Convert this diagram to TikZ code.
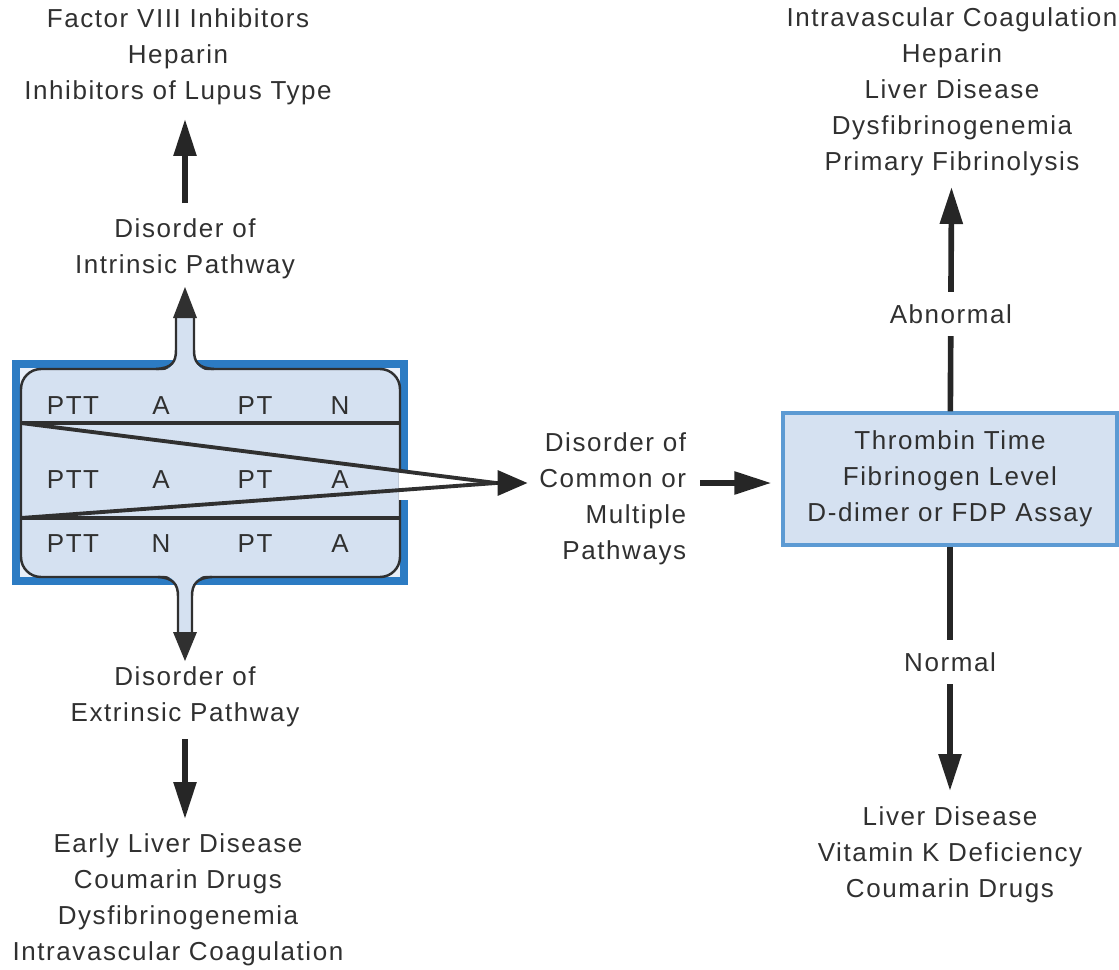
\documentclass[tikz,border=0pt]{standalone}
\usepackage{fontspec}
\setmainfont{Liberation Sans}[LetterSpace=6]
\usetikzlibrary{arrows.meta, positioning, calc}
\definecolor{ink}{HTML}{303030}
\definecolor{frameblue}{HTML}{2C7BC3}
\definecolor{panelfill}{HTML}{D5E1F1}
\definecolor{cornerfill}{HTML}{E9EFF8}
\definecolor{boxline}{HTML}{5C9AD3}
\tikzstyle{txt} = [align=center, text=ink, inner sep=2pt]
\tikzstyle{testbox} = [rectangle, minimum width=6.68cm, minimum height=2.64cm, fill=panelfill, draw=boxline, line width=1.9pt, align=center, text=ink]
\tikzstyle{cell} = [anchor=base, text=ink, inner sep=0pt]
\tikzstyle{arrow} = [line width=3.2pt, draw=black!85, -{Triangle[length=0.74cm, width=0.44cm]}]

\begin{document}
\begin{tikzpicture}[x=0.02cm, y=-0.02cm, every node/.style={font=\fontsize{14.8pt}{20.5pt}\selectfont}]
  \useasboundingbox (0,0) rectangle (1119,970);

  % Left panel: frame, table and pipes
  \fill[frameblue] (12,360) rectangle (408,585);
  \fill[cornerfill] (20,368) rectangle (400,577);
  \draw[ink, line width=1.4pt, fill=panelfill, rounded corners=0.4cm] (21,369) rectangle (400,577);
  \draw[ink, line width=2.2pt] (21,423) -- (400,423);
  \draw[ink, line width=2.2pt] (21,518) -- (400,518);

  % upward pipe
  \fill[panelfill] (156,372) .. controls (172,370) and (176,364) .. (176,350) -- (176,316) -- (194,316) -- (194,350) .. controls (194,364) and (198,370) .. (214,372) -- cycle;
  \draw[ink, line width=1.4pt] (156,369) .. controls (172,368) and (176,362) .. (176,350) -- (176,317);
  \draw[ink, line width=1.4pt] (194,317) -- (194,350) .. controls (194,362) and (198,368) .. (214,369);
  \fill[ink] (173,318) -- (197,318) -- (185,287) -- cycle;

  % downward pipe
  \fill[panelfill] (158,574) .. controls (173,576) and (178,582) .. (178,596) -- (178,633) -- (192,633) -- (192,596) .. controls (192,582) and (197,576) .. (212,574) -- cycle;
  \draw[ink, line width=1.4pt] (158,577) .. controls (173,578) and (178,584) .. (178,596) -- (178,632);
  \draw[ink, line width=1.4pt] (192,632) -- (192,596) .. controls (192,584) and (197,578) .. (212,577);
  \fill[ink] (173,632) -- (197,632) -- (185,661) -- cycle;

  % table cells
  \node[cell] (ptt1) at (73,414) {PTT};
  \node[cell] (res1) at (161,414) {A};
  \node[cell] (pt1) at (255,414) {PT};
  \node[cell] (rpt1) at (340,414) {N};
  \node[cell] (ptt2) at (73,488) {PTT};
  \node[cell] (res2) at (161,488) {A};
  \node[cell] (pt2) at (255,488) {PT};
  \node[cell] (rpt2) at (340,488) {A};
  \node[cell] (ptt3) at (73,552) {PTT};
  \node[cell] (res3) at (161,552) {N};
  \node[cell] (pt3) at (255,552) {PT};
  \node[cell] (rpt3) at (340,552) {A};

  % Texts
  \node[txt] (lupus) at (178,57) {Factor VIII Inhibitors\\Heparin\\Inhibitors of Lupus Type};
  \node[txt] (intr) at (185,249) {Disorder of\\Intrinsic Pathway};
  \node[txt] (extr) at (185,697) {Disorder of\\Extrinsic Pathway};
  \node[txt] (early) at (178,900) {Early Liver Disease\\Coumarin Drugs\\Dysfibrinogenemia\\Intravascular Coagulation};
  \node[txt, align=right, anchor=east] (common) at (690,499) {Disorder of\\Common or\\Multiple\\Pathways};
  \node[testbox] (tests) at (950,479) {Thrombin Time\\Fibrinogen Level\\D-dimer or FDP Assay};
  \node[txt] (abn) at (952,92) {Intravascular Coagulation\\Heparin\\Liver Disease\\Dysfibrinogenemia\\Primary Fibrinolysis};
  \node[txt] (nrm) at (950,855) {Liver Disease\\Vitamin K Deficiency\\Coumarin Drugs};

  % converging lines out of the panel
  \coordinate (join) at (496,483);
  \fill[white] (399,472) rectangle (410,500);
  \draw[ink, line width=2.2pt] (21,423) -- (join);
  \draw[ink, line width=2.2pt] (21,518) -- (join);
  \draw[line width=2pt, draw=black!85, -{Triangle[length=0.6cm, width=0.5cm]}, shorten >=0.16cm] (join) -- (common.west |- join);

  \draw[arrow, shorten <=0.24cm, shorten >=0.2cm] (intr) -- (intr |- lupus.south);
  \draw[arrow, shorten <=0.16cm, shorten >=0.22cm] (extr) -- (extr |- early.north);
  \draw[arrow, shorten <=0.2cm, shorten >=0.2cm] (common.east |- join) -- (tests.west |- join);
  \draw[arrow, shorten >=0.14cm] (tests) -- node[pos=0.42, fill=white, text=ink, inner xsep=2pt, inner ysep=7pt] {Abnormal} (abn);
  \draw[arrow, shorten >=0.24cm] (tests) -- node[pos=0.45, fill=white, text=ink, inner xsep=2pt, inner ysep=7pt] {Normal} (nrm);
\end{tikzpicture}
\end{document}
